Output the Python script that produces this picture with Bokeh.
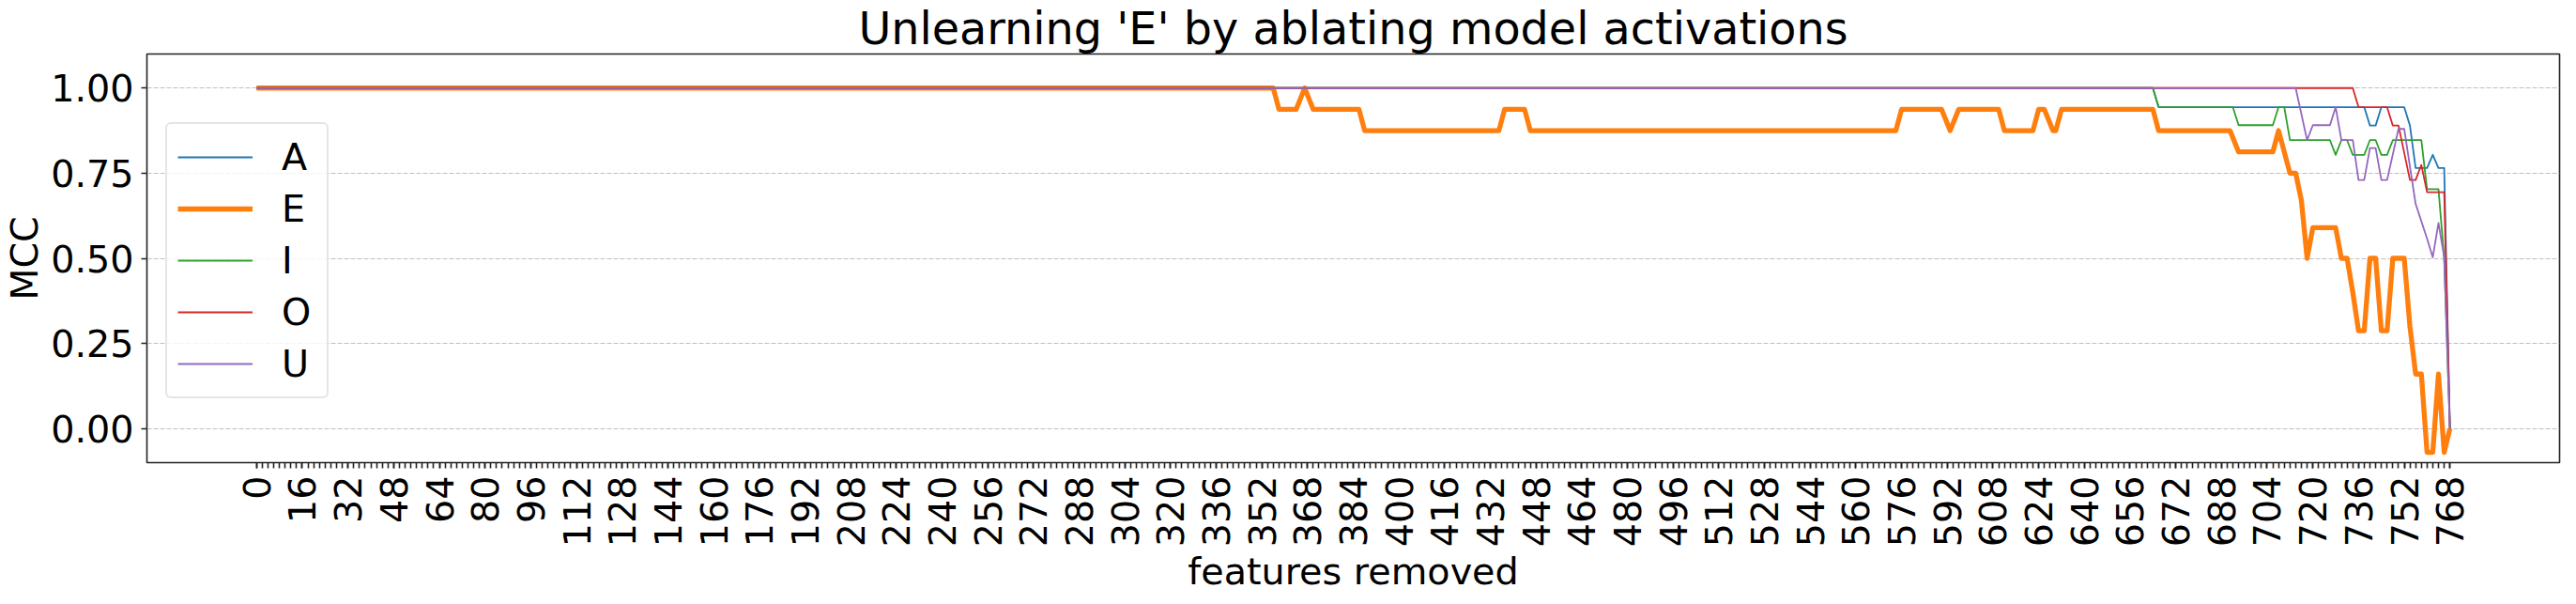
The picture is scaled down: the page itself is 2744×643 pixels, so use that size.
import math
from bokeh.plotting import figure
from bokeh.models import FixedTicker, Legend, LegendItem, Range1d, PrintfTickFormatter
from bokeh.embed import file_html
from bokeh.resources import INLINE

# ---------------- data ----------------
series_names = ["A", "E", "I", "O", "U"]
series_colors = ["#1f77b4", "#ff7f0e", "#2ca02c", "#d62728", "#9467bd"]

A_x = [0, 664, 666, 738, 740, 742, 744, 752, 754, 756, 760, 762, 764, 766, 768]
A_y = [1.0, 1.0, 0.944, 0.944, 0.89, 0.89, 0.944, 0.944, 0.89, 0.765, 0.765, 0.804, 0.765, 0.765, 0.0]

E_x = [0, 356, 358, 364, 367, 370, 386, 388, 435, 437,
       444, 446, 574, 576, 590, 593, 596, 610, 612, 622,
       624, 626, 629, 630, 632, 664, 666, 691, 694, 706,
       708, 712, 714, 716, 718, 720, 728, 730, 732, 734,
       736, 738, 740, 742, 744, 746, 748, 752, 754, 756,
       758, 760, 762, 764, 766, 768]
E_y = [1.0, 1.0, 0.9375, 0.9375, 1.0, 0.9375, 0.9375, 0.875, 0.875, 0.9375,
       0.9375, 0.875, 0.875, 0.9375, 0.9375, 0.875, 0.9375, 0.9375, 0.875, 0.875,
       0.9375, 0.9375, 0.875, 0.875, 0.9375, 0.9375, 0.875, 0.875, 0.8125, 0.8125,
       0.875, 0.75, 0.75, 0.67, 0.5, 0.59, 0.59, 0.5, 0.5, 0.40,
       0.287, 0.287, 0.5, 0.5, 0.287, 0.287, 0.5, 0.5, 0.30, 0.16,
       0.16, -0.07, -0.07, 0.16, -0.07, 0.0]

I_x = [0, 664, 666, 692, 694, 706, 708, 710, 712, 726, 728, 730, 732, 734, 738,
       740, 742, 744, 746, 748, 758, 760, 764, 766, 768]
I_y = [1.0, 1.0, 0.944, 0.944, 0.891, 0.891, 0.944, 0.944, 0.847, 0.847, 0.804, 0.847, 0.847, 0.804, 0.804,
       0.847, 0.847, 0.804, 0.804, 0.847, 0.847, 0.703, 0.703, 0.5, 0.0]

O_x = [0, 734, 736, 746, 748, 750, 754, 756, 758, 760, 766, 768]
O_y = [1.0, 1.0, 0.944, 0.944, 0.89, 0.89, 0.73, 0.73, 0.774, 0.694, 0.694, 0.0]

U_x = [0, 714, 718, 720, 726, 728, 730, 734, 736, 738, 740, 742, 744, 746, 750, 752,
       756, 760, 762, 764, 766, 768]
U_y = [1.0, 1.0, 0.847, 0.891, 0.891, 0.944, 0.847, 0.847, 0.73, 0.73, 0.824, 0.824, 0.73, 0.73, 0.88, 0.88,
       0.66, 0.558, 0.503, 0.604, 0.503, 0.0]

x_label_ticks = list(range(0, 769, 16))
x_minor_ticks = list(range(0, 769, 2))
y_ticks = [0.0, 0.25, 0.5, 0.75, 1.0]

title_text = "Unlearning 'E' by ablating model activations"
x_label = "features removed"
y_label = "MCC"

# ---------------- figure ----------------
FONT = "DejaVu Sans"
FS = "39.7px"
X_MIN, X_MAX = -38.4, 806.4
Y_MIN, Y_MAX = -0.1, 1.1
p = figure(frame_width=2570, frame_height=435, output_backend="svg", toolbar_location=None,
           x_range=Range1d(X_MIN, X_MAX), y_range=Range1d(Y_MIN, Y_MAX),
           min_border_left=152, min_border_right=6, min_border_top=52, min_border_bottom=130)

p.title.text = title_text
p.title.align = "center"
p.title.text_font = FONT
p.title.text_font_size = "47.7px"
p.title.text_font_style = "normal"
p.title.text_color = "black"
p.title.text_line_height = 1.0
p.title.standoff = 0

p.background_fill_color = "white"
p.border_fill_color = "white"
p.outline_line_color = "#222222"
p.outline_line_width = 1.6

p.xgrid.visible = False
p.ygrid.grid_line_color = "#b0b0b0"
p.ygrid.grid_line_alpha = 0.8
p.ygrid.grid_line_width = 1
p.ygrid.grid_line_dash = "5 2"

for ax in (p.xaxis[0], p.yaxis[0]):
    ax.axis_line_color = None
    ax.major_tick_in = 0
    ax.major_tick_out = 6
    ax.major_tick_line_width = 1.6
    ax.major_tick_line_color = "#222222"
    ax.minor_tick_in = 0
    ax.minor_tick_out = 6
    ax.minor_tick_line_width = 1.6
    ax.minor_tick_line_color = "#222222"
    ax.major_label_text_font = FONT
    ax.major_label_text_font_size = FS
    ax.major_label_text_color = "black"
    ax.major_label_text_line_height = 1.0
    ax.axis_label_text_font = FONT
    ax.axis_label_text_font_size = FS
    ax.axis_label_text_font_style = "normal"
    ax.axis_label_text_color = "black"
    ax.axis_label_text_line_height = 1.0

p.xaxis.ticker = FixedTicker(ticks=x_label_ticks, minor_ticks=x_minor_ticks)
p.xaxis.major_label_orientation = math.pi / 2
p.xaxis.major_label_standoff = 8
p.xaxis.axis_label = x_label
p.xaxis.axis_label_standoff = 0

p.yaxis.ticker = FixedTicker(ticks=y_ticks, minor_ticks=[])
p.yaxis.formatter = PrintfTickFormatter(format="%.2f")
p.yaxis.major_label_standoff = 8
p.yaxis.axis_label = y_label
p.yaxis.axis_label_standoff = 2

xs = [A_x, E_x, I_x, O_x, U_x]
ys = [A_y, E_y, I_y, O_y, U_y]
widths = [1.8, 5.3, 1.8, 1.8, 1.8]

items = []
for name, color, x, y, w in zip(series_names, series_colors, xs, ys, widths):
    r = p.line(x, y, line_color=color, line_width=w, line_join="round")
    items.append(LegendItem(label=name, renderers=[r]))

legend = Legend(items=items, location=(20, 68), margin=0, padding=11, spacing=7,
                glyph_width=80, glyph_height=48, label_height=48, label_width=37,
                label_standoff=31, label_text_font=FONT, label_text_font_size=FS,
                label_text_color="black", border_line_color="#cccccc", border_line_width=2,
                background_fill_color="white", background_fill_alpha=0.8)
if "border_radius" in Legend.properties():
    legend.border_radius = 6
p.add_layout(legend)

open("out.html", "w").write(file_html(p, INLINE))
